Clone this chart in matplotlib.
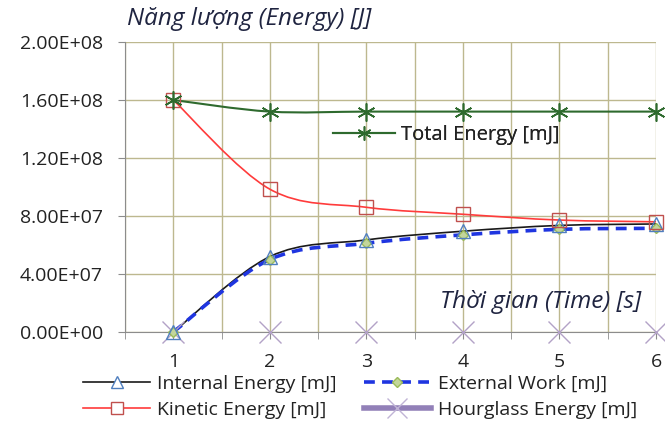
import numpy as np
import matplotlib
matplotlib.use("Agg")
import matplotlib.pyplot as plt
from matplotlib.path import Path
from matplotlib.patches import PathPatch
from matplotlib.lines import Line2D

plt.rcParams['font.family'] = ['Open Sans', 'DejaVu Sans']

# data
time_s = [1, 2, 3, 4, 5, 6]
total_energy = [1.60e8, 1.52e8, 1.52e8, 1.52e8, 1.52e8, 1.52e8]
kinetic_energy = [1.60e8, 9.85e7, 8.60e7, 8.12e7, 7.72e7, 7.60e7]
internal_energy = [0.0, 5.20e7, 6.35e7, 6.95e7, 7.35e7, 7.45e7]
external_work = [0.0, 5.00e7, 6.12e7, 6.70e7, 7.08e7, 7.15e7]
hourglass_energy = [0.0, 0.0, 0.0, 0.0, 0.0, 0.0]

y_ticks = [0, 4e7, 8e7, 1.2e8, 1.6e8, 2e8]
y_labels = ['0.00E+00', '4.00E+07', '8.00E+07', '1.20E+08', '1.60E+08', '2.00E+08']

c_total = '#2e6a2e'
c_kin = '#ff3b3b'
c_int = '#1a1a1a'
c_ext = '#1f35e0'
c_hg = '#9280b8'
c_grid = '#bdb88f'
c_text = '#222222'


def smooth_path(x, y):
    # excel-like smoothed line: cubic bezier through the data points
    pts = np.column_stack([x, y]).astype(float)
    n = len(pts)
    verts = [pts[0]]
    codes = [Path.MOVETO]
    for i in range(n - 1):
        p0 = pts[i - 1] if i > 0 else pts[i]
        p1, p2 = pts[i], pts[i + 1]
        p3 = pts[i + 2] if i + 2 < n else pts[i + 1]
        verts += [p1 + (p2 - p0) / 6, p2 - (p3 - p1) / 6, p2]
        codes += [Path.CURVE4] * 3
    return Path(verts, codes)


fig = plt.figure(figsize=(6.65, 4.32), dpi=100)
ax = fig.add_axes([125 / 665, 1 - 332 / 432, (656 - 125) / 665, (332 - 42) / 432])

ax.set_xlim(0.5, 6)
ax.set_ylim(0, 2e8)
ax.set_xticks(time_s)
ax.set_xticks(np.arange(0.5, 6.01, 0.5), minor=True)
ax.set_yticks(y_ticks)
ax.set_yticklabels(y_labels)
ax.grid(True, which='both', axis='x', color=c_grid, lw=1)
ax.grid(True, which='major', axis='y', color=c_grid, lw=1)
ax.set_axisbelow(True)
for s in ['top', 'right']:
    ax.spines[s].set_visible(False)
for s in ['left', 'bottom']:
    ax.spines[s].set_color('#8c8c8c')
ax.tick_params(axis='both', which='both', color='#8c8c8c', length=5, labelsize=14,
               labelcolor=c_text)
ax.tick_params(axis='y', pad=11)
ax.tick_params(axis='x', which='major', pad=10)
ax.tick_params(axis='x', which='minor', labelbottom=False)

# smoothed lines
ax.add_patch(PathPatch(smooth_path(time_s, total_energy), fill=False, ec=c_total, lw=1.5, zorder=3))
ax.add_patch(PathPatch(smooth_path(time_s, kinetic_energy), fill=False, ec=c_kin, lw=1.2, zorder=3))
ax.add_patch(PathPatch(smooth_path(time_s, internal_energy), fill=False, ec=c_int, lw=1.2, zorder=3))
ax.add_patch(PathPatch(smooth_path(time_s, external_work), fill=False, ec=c_ext, lw=2.6,
                       ls=(0, (3, 2)), zorder=3))

# markers
ax.plot(time_s, hourglass_energy, ls='none', marker='x', ms=16, mew=1, color='#b3a2c7',
        zorder=4, clip_on=False)
ax.plot(time_s, external_work, ls='none', marker='D', ms=5, mfc='#c3d69b', mec='#9bbb59',
        zorder=4, clip_on=False)
ax.plot(time_s, internal_energy, ls='none', marker='^', ms=10, mfc='none', mec='#4f7fbf',
        mew=1, zorder=5, clip_on=False)
ax.plot(time_s, kinetic_energy, ls='none', marker='s', ms=10, mfc='none', mec='#c0504d',
        mew=1, zorder=5, clip_on=False)
ax.plot(time_s, total_energy, ls='none', marker=(6, 2, 0), ms=13, mew=1.2, color=c_total,
        zorder=5, clip_on=False)

# axis titles
fig.text(127 / 665, 1 - 19 / 432, 'Năng lượng (Energy) [J]', style='italic', fontsize=17.5,
         color='#1f2440', va='center', ha='left')
fig.text(641 / 665, 1 - 302 / 432, 'Thời gian (Time) [s]', style='italic', fontsize=17.5,
         color='#1f2440', va='center', ha='right')

# legends
h_total = Line2D([], [], color=c_total, lw=1.5, marker=(6, 2, 0), ms=10, mew=1)
leg1 = ax.legend([h_total], ['Total Energy [mJ]'], loc='center left',
                 bbox_to_anchor=(333 / 665, 1 - 135 / 432), bbox_transform=fig.transFigure,
                 frameon=False, fontsize=14.5, handlelength=3.1, handletextpad=0.27,
                 borderpad=0, borderaxespad=0, labelcolor=c_text)
ax.add_artist(leg1)

h_int = Line2D([], [], color=c_int, lw=1.2, marker='^', ms=8, mfc='white', mec='#4f7fbf')
h_kin = Line2D([], [], color=c_kin, lw=1.2, marker='s', ms=8, mfc='white', mec='#c0504d')
h_ext = Line2D([], [], color=c_ext, lw=2.6, ls=(0, (3, 2)), marker='D', ms=5,
               mfc='#c3d69b', mec='#9bbb59')
h_hg = Line2D([], [], color=c_hg, lw=4, marker='x', ms=14, mew=1, mec='#c0b4d6')
fig.legend([h_int, h_kin, h_ext, h_hg],
           ['Internal Energy [mJ]', 'Kinetic Energy [mJ]', 'External Work [mJ]',
            'Hourglass Energy [mJ]'],
           ncol=2, loc='upper left', bbox_to_anchor=(83 / 665, 1 - 375 / 432),
           frameon=False, fontsize=14, handlelength=3.45, handletextpad=0.36,
           columnspacing=1.4, labelspacing=0.4, borderpad=0, borderaxespad=0,
           labelcolor=c_text)

fig.savefig('out.png', dpi=100)
